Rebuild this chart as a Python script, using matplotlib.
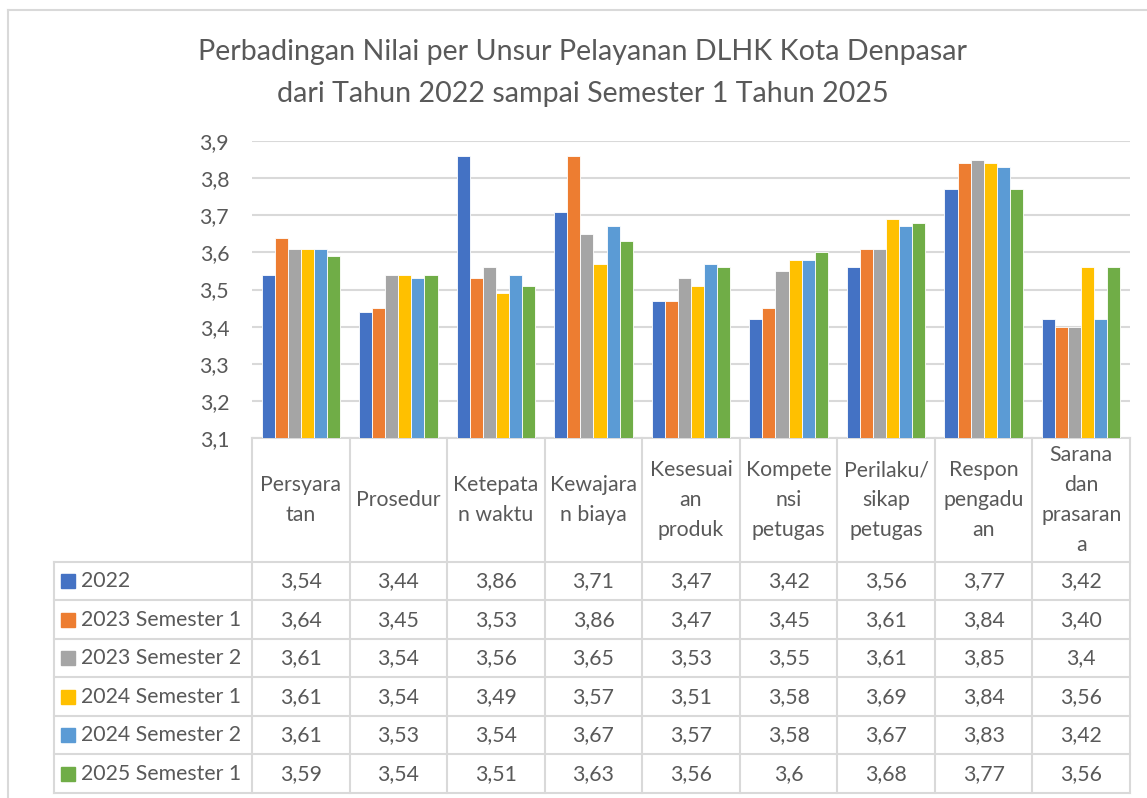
import matplotlib
matplotlib.use('Agg')
import matplotlib.pyplot as plt
import numpy as np
from matplotlib.lines import Line2D
from matplotlib.ticker import FuncFormatter

plt.rcParams['font.family'] = ['Lato', 'DejaVu Sans']

# ── data ───────────────────────────────────────────────────────────────
categories = ["Persyara\ntan", "Prosedur", "Ketepata\nn waktu", "Kewajara\nn biaya",
              "Kesesuai\nan\nproduk", "Kompete\nnsi\npetugas", "Perilaku/\nsikap\npetugas",
              "Respon\npengadu\nan", "Sarana\ndan\nprasaran\na"]
series = ["2022", "2023 Semester 1", "2023 Semester 2",
          "2024 Semester 1", "2024 Semester 2", "2025 Semester 1"]
v2022   = [3.54, 3.44, 3.86, 3.71, 3.47, 3.42, 3.56, 3.77, 3.42]
v2023s1 = [3.64, 3.45, 3.53, 3.86, 3.47, 3.45, 3.61, 3.84, 3.40]
v2023s2 = [3.61, 3.54, 3.56, 3.65, 3.53, 3.55, 3.61, 3.85, 3.40]
v2024s1 = [3.61, 3.54, 3.49, 3.57, 3.51, 3.58, 3.69, 3.84, 3.56]
v2024s2 = [3.61, 3.53, 3.54, 3.67, 3.57, 3.58, 3.67, 3.83, 3.42]
v2025s1 = [3.59, 3.54, 3.51, 3.63, 3.56, 3.60, 3.68, 3.77, 3.56]
values = [v2022, v2023s1, v2023s2, v2024s1, v2024s2, v2025s1]
# the table in the original shows the numbers as typed (e.g. "3,40" and "3,4")
table_text = [
    ["3,54", "3,44", "3,86", "3,71", "3,47", "3,42", "3,56", "3,77", "3,42"],
    ["3,64", "3,45", "3,53", "3,86", "3,47", "3,45", "3,61", "3,84", "3,40"],
    ["3,61", "3,54", "3,56", "3,65", "3,53", "3,55", "3,61", "3,85", "3,4"],
    ["3,61", "3,54", "3,49", "3,57", "3,51", "3,58", "3,69", "3,84", "3,56"],
    ["3,61", "3,53", "3,54", "3,67", "3,57", "3,58", "3,67", "3,83", "3,42"],
    ["3,59", "3,54", "3,51", "3,63", "3,56", "3,6", "3,68", "3,77", "3,56"],
]
COLORS = ["#4472C4", "#ED7D31", "#A5A5A5", "#FFC000", "#5B9BD5", "#70AD47"]
TXT = "#595959"; GRID = "#D9D9D9"
FS = 15.3

W, H = 1147, 798
fig = plt.figure(figsize=(W/100, H/100), dpi=100)

def fx(px): return px / W
def fy(py): return 1 - py / H

# outer chart border (cut off at right in the original)
fig.add_artist(Line2D([fx(8), 1.0], [fy(10), fy(10)], color=GRID, lw=1.5))
fig.add_artist(Line2D([fx(8), fx(8)], [fy(10), 0.0], color=GRID, lw=1.5))

fig.text(fx(583), fy(52), "Perbadingan Nilai per Unsur Pelayanan DLHK Kota Denpasar",
         ha="center", va="center", fontsize=20.6, color=TXT)
fig.text(fx(583), fy(94), "dari Tahun 2022 sampai Semester 1 Tahun 2025",
         ha="center", va="center", fontsize=20.6, color=TXT)

# ── bars ───────────────────────────────────────────────────────────────
ax = fig.add_axes([fx(252), fy(438), fx(1130) - fx(252), fy(141) - fy(438)])
n = len(categories); k = len(series); bw = 0.134
x = np.arange(n) + 0.5
for j, (s, v) in enumerate(zip(series, values)):
    ax.bar(x + (j - (k - 1) / 2) * bw, np.array(v) - 3.1, bottom=3.1, width=bw,
           color=COLORS[j], edgecolor="white", linewidth=0.6, zorder=3, label=s)
ax.set_xlim(0, n); ax.set_ylim(3.1, 3.9)
ax.set_yticks(np.arange(3.1, 3.91, 0.1))
ax.yaxis.set_major_formatter(FuncFormatter(lambda v, p: f"{v:.1f}".replace(".", ",")))
ax.tick_params(axis="y", length=0, labelsize=FS, labelcolor=TXT, pad=16.5)
ax.set_xticks([])
ax.grid(axis="y", color=GRID, lw=1.5, zorder=0)
for sp in ["top", "right", "left"]:
    ax.spines[sp].set_visible(False)
ax.spines["bottom"].set_color(GRID); ax.spines["bottom"].set_linewidth(1.5)

# ── data table ─────────────────────────────────────────────────────────
tab = fig.add_axes([fx(54), fy(793), fx(1130) - fx(54), fy(438) - fy(793)])
left = -(252 - 54) / 97.56
hdr = 3.22
tab.set_xlim(left, n); tab.set_ylim(hdr + k, 0); tab.axis("off")
for i in range(n + 1):
    tab.plot([i, i], [0, hdr + k], color=GRID, lw=1.5, clip_on=False)
tab.plot([left, left], [hdr, hdr + k], color=GRID, lw=1.5, clip_on=False)
for r in range(k + 1):
    tab.plot([left, n], [hdr + r, hdr + r], color=GRID, lw=1.5, clip_on=False)
for i, c in enumerate(categories):
    tab.text(i + 0.5, hdr / 2, c, ha="center", va="center", fontsize=FS,
             color=TXT, linespacing=1.62)
for r in range(k):
    yc = hdr + r + 0.5
    tab.plot([left + 0.14], [yc], marker="s", ms=10, color=COLORS[r], ls="", clip_on=False)
    tab.text(left + 0.275, yc, series[r], ha="left", va="center", fontsize=FS, color=TXT)
    for i in range(n):
        tab.text(i + 0.5, yc, table_text[r][i], ha="center", va="center",
                 fontsize=FS, color=TXT)

plt.savefig("out.png", dpi=100)
